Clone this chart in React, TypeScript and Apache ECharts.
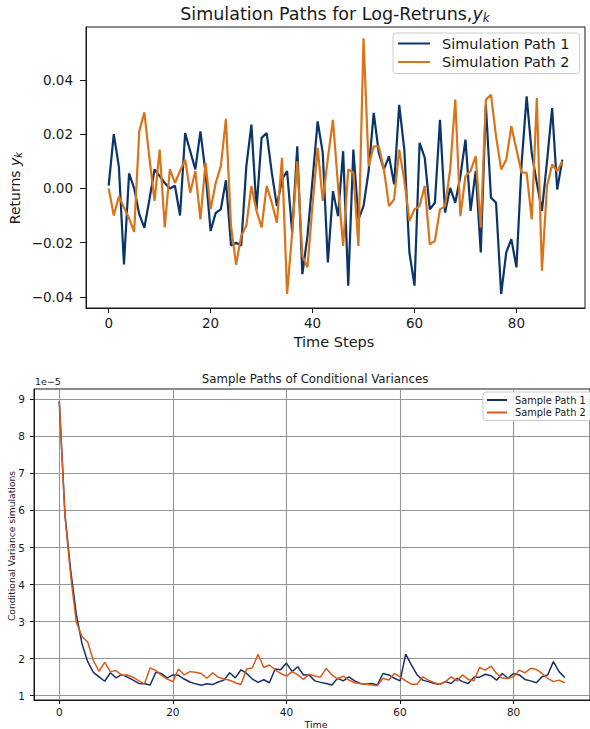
import React, { useEffect, useRef } from 'react';
import * as echarts from 'echarts';

// ---------- data ----------
const steps = Array.from({ length: 90 }, (_, i) => i);

const simPath1 = [
  0.001, 0.020, 0.008, -0.028, 0.0055, 0.000, -0.0095, -0.0145, -0.004, 0.007,
  0.0045, 0.002, 0.000, 0.001, -0.010, 0.0204, 0.0137, 0.007, 0.021, 0.0058,
  -0.0157, -0.009, -0.0077, 0.003, -0.021, -0.020, -0.021, 0.008, 0.0235, -0.0077,
  0.0186, 0.0204, 0.0058, -0.0065, 0.0033, 0.0064, -0.0163, 0.0155, -0.0316, -0.0175,
  0.0033, 0.0247, 0.0131, -0.0273, -0.001, -0.0102, 0.0137, -0.0358, 0.0143, -0.0114,
  -0.0065, 0.0064, 0.0278, 0.0131, 0.007, 0.0119, 0.0015, 0.0308, 0.0143, -0.0236,
  -0.0358, 0.0168, 0.0113, -0.0077, -0.0053, 0.0253, -0.0089, 0.0002, -0.0053, 0.0045,
  0.018, -0.0083, 0.0064, -0.0236, 0.0308, -0.0034, -0.0053, -0.0389, -0.0236, -0.0187,
  -0.0291, 0.0088, 0.0339, 0.013, 0.002, -0.0083, 0.010, 0.0296, -0.0004, 0.0106,
];

const simPath2 = [
  0.000, -0.010, -0.003, -0.007, -0.011, -0.016, 0.021, 0.028, 0.011, -0.0046,
  0.0143, -0.0144, 0.007, 0.002, 0.0064, 0.0106, -0.0016, 0.0064, -0.0114, 0.0094,
  -0.0077, 0.002, 0.0082, 0.0256, -0.0138, -0.0281, -0.0175, -0.0138, 0.0009, -0.0083,
  -0.0144, 0.0009, -0.0053, -0.0126, 0.0113, -0.0389, -0.0163, 0.010, -0.0248, -0.0291,
  -0.0059, 0.0149, -0.0046, 0.011, 0.0253, 0.0009, -0.0212, 0.007, 0.0058, -0.0212,
  0.0553, 0.0082, 0.0155, 0.0155, 0.007, -0.0065, -0.004, 0.0143, 0.003, -0.012,
  -0.0077, -0.0065, 0.0009, -0.0206, -0.0193, -0.0077, -0.0065, 0.007, 0.0327, -0.0102,
  0.0045, 0.0064, 0.0119, -0.0144, 0.0327, 0.0345, 0.0192, 0.007, 0.0106, 0.0229,
  0.0143, 0.0058, 0.0058, -0.0114, 0.0333, -0.0303, 0.0009, 0.0088, 0.0064, 0.010,
];

// conditional variances, in units of 1e-5
const VAR_SCALE = 1e-5;
const varPath1 = [
  8.95, 5.9, 4.4, 3.2, 2.4, 1.92, 1.63, 1.51, 1.39, 1.62,
  1.48, 1.57, 1.5, 1.42, 1.33, 1.32, 1.29, 1.63, 1.6, 1.48,
  1.56, 1.55, 1.45, 1.37, 1.32, 1.28, 1.32, 1.3, 1.37, 1.42,
  1.62, 1.48, 1.7, 1.6, 1.45, 1.36, 1.43, 1.35, 1.72, 1.7,
  1.88, 1.65, 1.78, 1.56, 1.56, 1.4, 1.36, 1.33, 1.29, 1.47,
  1.4, 1.51, 1.4, 1.33, 1.31, 1.33, 1.29, 1.6, 1.56, 1.47,
  1.4, 2.12, 1.83, 1.56, 1.42, 1.38, 1.33, 1.31, 1.38, 1.33,
  1.47, 1.38, 1.33, 1.5, 1.5, 1.58, 1.54, 1.42, 1.6, 1.47,
  1.6, 1.56, 1.44, 1.4, 1.35, 1.51, 1.56, 1.92, 1.65, 1.49,
];
const varPath2 = [
  8.95, 5.85, 4.25, 2.98, 2.6, 2.45, 1.95, 1.66, 1.9, 1.65,
  1.68, 1.55, 1.56, 1.5, 1.4, 1.32, 1.75, 1.68, 1.55, 1.45,
  1.38, 1.72, 1.56, 1.65, 1.63, 1.6, 1.47, 1.62, 1.5, 1.45,
  1.42, 1.35, 1.3, 1.72, 1.75, 2.12, 1.76, 1.83, 1.7, 1.6,
  1.53, 1.65, 1.56, 1.44, 1.58, 1.53, 1.5, 1.74, 1.56, 1.45,
  1.53, 1.42, 1.35, 1.33, 1.31, 1.29, 1.27, 1.47, 1.42, 1.6,
  1.51, 1.4, 1.31, 1.31, 1.51, 1.42, 1.35, 1.31, 1.38, 1.51,
  1.4, 1.56, 1.44, 1.4, 1.76, 1.69, 1.8, 1.6, 1.47, 1.47,
  1.51, 1.69, 1.62, 1.74, 1.71, 1.6, 1.47, 1.38, 1.42, 1.35,
];

const timeTicks = [0, 20, 40, 60, 80];
const returnTicks = [-0.04, -0.02, 0, 0.02, 0.04];
const varTicks = [1, 2, 3, 4, 5, 6, 7, 8, 9];

const FONT = 'DejaVu Sans';
const INK = '#1a1a1a';
const C_BLUE_TOP = '#0b3468';
const C_ORANGE_TOP = '#d9741a';
const C_BLUE_BOT = '#17306a';
const C_ORANGE_BOT = '#d95a1c';

const fmtMinus = (v: number) => (v < -1e-12 ? '\u2212' : '') + Math.abs(v).toFixed(2);

export default function App() {
  const ref = useRef<HTMLDivElement>(null);

  useEffect(() => {
    if (!ref.current) return;
    const chart = echarts.init(ref.current, undefined, { renderer: 'svg' });

    const pairs = (ys: number[], scale = 1) => steps.map((x, i) => [x, ys[i] * scale]);

    const option: any = {
      animation: false,
      backgroundColor: '#ffffff',
      grid: [
        { left: 86, top: 27, width: 499, height: 281, show: true, borderColor: INK, borderWidth: 1, backgroundColor: 'transparent' },
        { left: 34, top: 389, width: 562, height: 311, show: true, borderColor: INK, borderWidth: 1, backgroundColor: 'transparent' },
      ],
      xAxis: [
        {
          gridIndex: 0, type: 'value', min: -4.45, max: 93.45,
          axisLine: { show: true, onZero: false, lineStyle: { color: INK } },
          axisTick: { show: true, customValues: timeTicks, length: 5, lineStyle: { color: INK } },
          axisLabel: { customValues: timeTicks, fontSize: 13.5, fontFamily: FONT, color: INK, margin: 8 },
          splitLine: { show: false },
        },
        {
          gridIndex: 1, type: 'value', min: -4.45, max: 93.45,
          axisLine: { show: true, onZero: false, lineStyle: { color: INK } },
          axisTick: { show: true, customValues: timeTicks, length: 4, lineStyle: { color: INK } },
          axisLabel: { customValues: timeTicks, fontSize: 10.5, fontFamily: FONT, color: INK, margin: 6 },
          splitLine: { show: true, lineStyle: { color: '#969696', width: 1.1 } },
        },
      ],
      yAxis: [
        {
          gridIndex: 0, type: 'value', min: -0.04405, max: 0.05945,
          axisLine: { show: true, onZero: false, lineStyle: { color: INK } },
          axisTick: { show: true, customValues: returnTicks, length: 6, lineStyle: { color: INK } },
          axisLabel: { customValues: returnTicks, fontSize: 13.5, fontFamily: FONT, color: INK, margin: 13, formatter: fmtMinus },
          splitLine: { show: false },
        },
        {
          gridIndex: 1, type: 'value', min: 0.884 * VAR_SCALE, max: 9.278 * VAR_SCALE,
          axisLine: { show: true, onZero: false, lineStyle: { color: INK } },
          axisTick: { show: true, customValues: varTicks.map((v) => v * VAR_SCALE), length: 4, lineStyle: { color: INK } },
          axisLabel: {
            customValues: varTicks.map((v) => v * VAR_SCALE), fontSize: 10.5, fontFamily: FONT, color: INK, margin: 9,
            formatter: (v: number) => String(Math.round(v / VAR_SCALE)),
          },
          splitLine: { show: true, lineStyle: { color: '#969696', width: 1.1 } },
        },
      ],
      legend: [
        {
          data: ['Simulation Path 1', 'Simulation Path 2'],
          orient: 'vertical', left: 393, top: 33,
          padding: [3, 10, 4, 5], itemWidth: 32, itemHeight: 2, itemGap: 3.5, icon: 'rect',
          textStyle: { fontSize: 14.5, fontFamily: FONT, color: INK, padding: [0, 0, 0, 7] },
          borderColor: '#cccccc', borderWidth: 1, borderRadius: 3, backgroundColor: 'rgba(255,255,255,0.85)',
        },
        {
          data: ['Sample Path 1', 'Sample Path 2'],
          orient: 'vertical', left: 483, top: 392,
          padding: [3, 10, 3, 4], itemWidth: 20, itemHeight: 2, itemGap: 2.5, icon: 'rect',
          textStyle: { fontSize: 9.8, fontFamily: FONT, color: INK, padding: [0, 0, 0, 3] },
          borderColor: '#cccccc', borderWidth: 1, borderRadius: 3, backgroundColor: 'rgba(255,255,255,0.85)',
        },
      ],
      series: [
        { name: 'Simulation Path 1', type: 'line', xAxisIndex: 0, yAxisIndex: 0, data: pairs(simPath1), symbol: 'none', lineStyle: { width: 2.2, color: C_BLUE_TOP }, itemStyle: { color: C_BLUE_TOP } },
        { name: 'Simulation Path 2', type: 'line', xAxisIndex: 0, yAxisIndex: 0, data: pairs(simPath2), symbol: 'none', lineStyle: { width: 2.2, color: C_ORANGE_TOP }, itemStyle: { color: C_ORANGE_TOP } },
        { name: 'Sample Path 1', type: 'line', xAxisIndex: 1, yAxisIndex: 1, data: pairs(varPath1, VAR_SCALE), symbol: 'none', lineStyle: { width: 1.5, color: C_BLUE_BOT }, itemStyle: { color: C_BLUE_BOT } },
        { name: 'Sample Path 2', type: 'line', xAxisIndex: 1, yAxisIndex: 1, data: pairs(varPath2, VAR_SCALE), symbol: 'none', lineStyle: { width: 1.5, color: C_ORANGE_BOT }, itemStyle: { color: C_ORANGE_BOT } },
      ],
      graphic: [
        {
          type: 'text', x: 335, y: 14,
          style: {
            text: 'Simulation Paths for Log-Retruns,{i|y}{s|k}',
            fontSize: 17.5, fontFamily: FONT, fill: INK, align: 'center', verticalAlign: 'middle',
            rich: {
              i: { fontSize: 17.5, fontStyle: 'italic', fontFamily: FONT, fill: INK },
              s: { fontSize: 12, fontStyle: 'italic', fontFamily: FONT, fill: INK, padding: [7, 0, 0, 0] },
            },
          },
        },
        {
          type: 'text', x: 15, y: 188, rotation: Math.PI / 2,
          style: {
            text: 'Returns {i|y}{s|k}',
            fontSize: 14, fontFamily: FONT, fill: INK, align: 'center', verticalAlign: 'middle',
            rich: {
              i: { fontSize: 14, fontStyle: 'italic', fontFamily: FONT, fill: INK },
              s: { fontSize: 10, fontStyle: 'italic', fontFamily: FONT, fill: INK, padding: [6, 0, 0, 0] },
            },
          },
        },
        {
          type: 'text', x: 334, y: 342,
          style: { text: 'Time Steps', fontSize: 14.5, fontFamily: FONT, fill: INK, align: 'center', verticalAlign: 'middle' },
        },
        {
          type: 'text', x: 315, y: 379,
          style: { text: 'Sample Paths of Conditional Variances', fontSize: 11.8, fontFamily: FONT, fill: INK, align: 'center', verticalAlign: 'middle' },
        },
        {
          type: 'text', x: 35, y: 381,
          style: { text: '1e\u22125', fontSize: 9.5, fontFamily: FONT, fill: INK, align: 'left', verticalAlign: 'middle' },
        },
        {
          type: 'text', x: 11, y: 546, rotation: Math.PI / 2,
          style: { text: 'Conditional Variance simulations', fontSize: 9.2, fontFamily: FONT, fill: INK, align: 'center', verticalAlign: 'middle' },
        },
        {
          type: 'text', x: 316, y: 724,
          style: { text: 'Time', fontSize: 9.5, fontFamily: FONT, fill: INK, align: 'center', verticalAlign: 'middle' },
        },
      ],
    };

    chart.setOption(option);
    return () => chart.dispose();
  }, []);

  return (
    <div
      ref={ref}
      style={{ position: 'absolute', left: 0, top: 0, width: 590, height: 729, overflow: 'hidden' }}
    />
  );
}
